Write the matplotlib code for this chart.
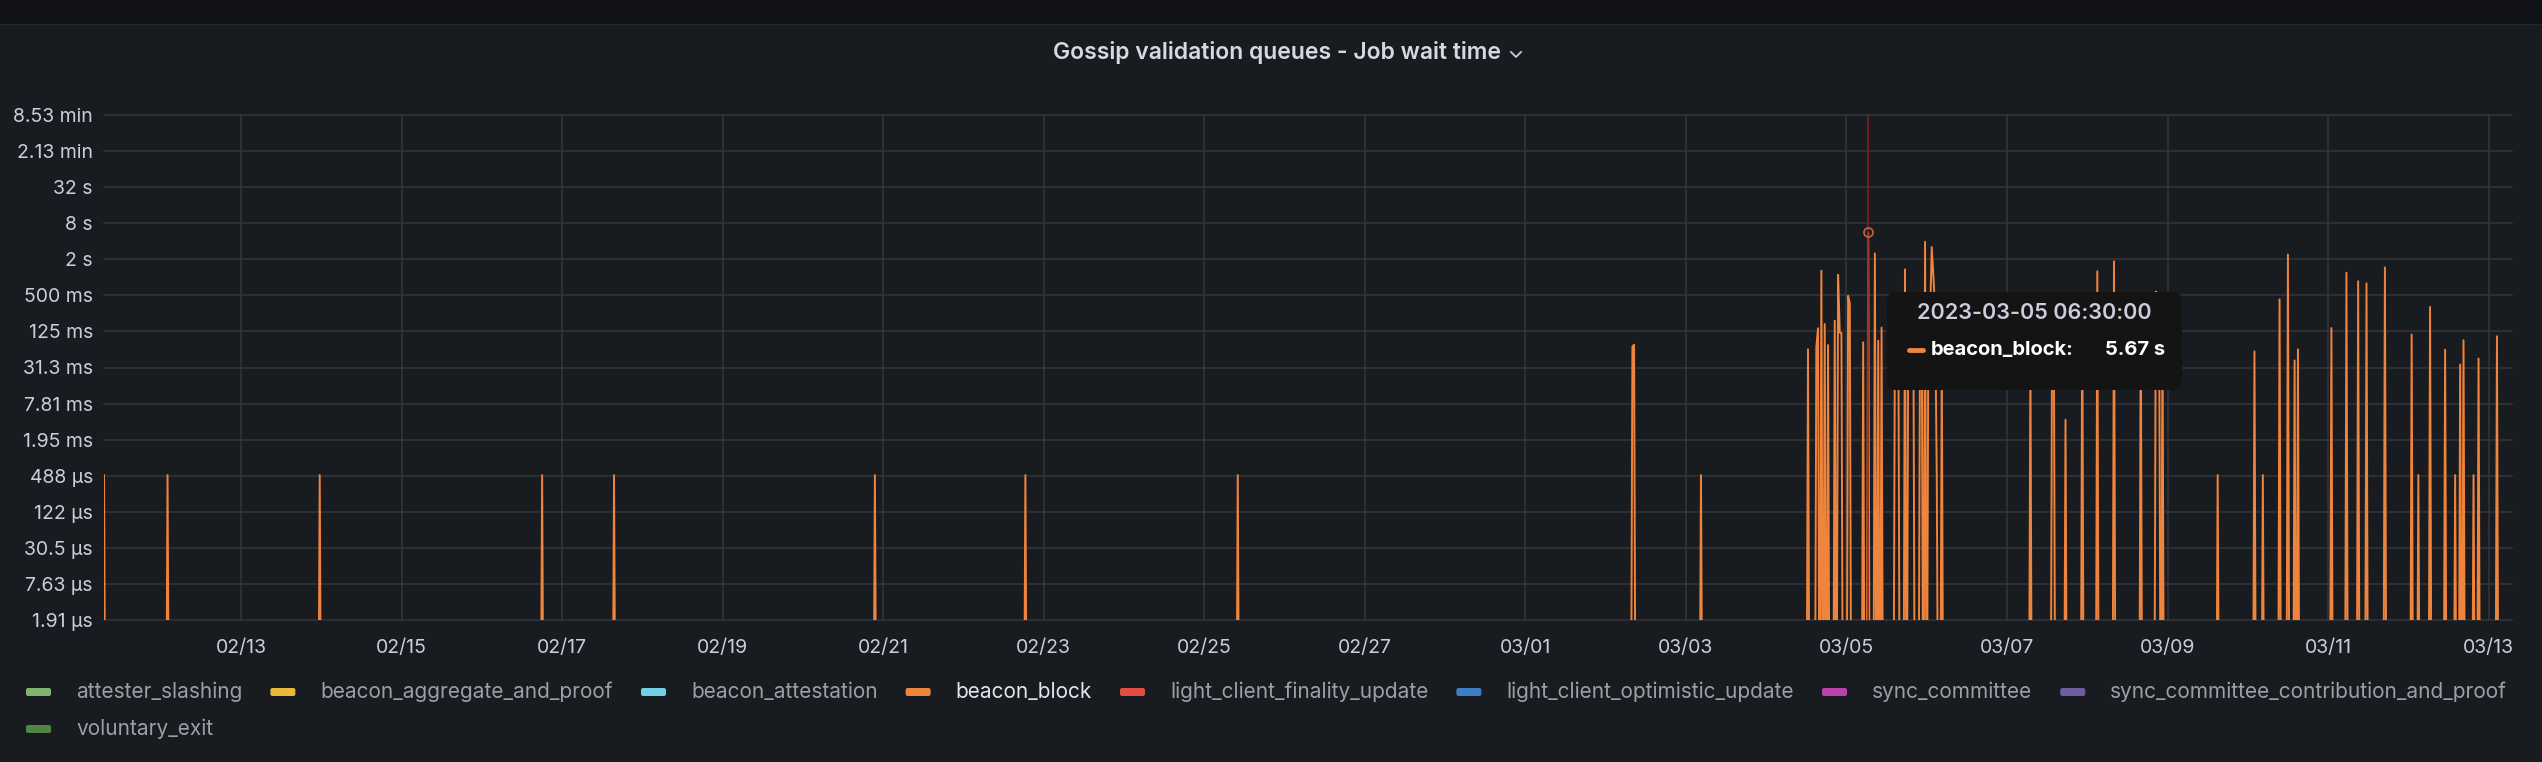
import numpy as np
import pandas as pd
import matplotlib
matplotlib.use("Agg")
import matplotlib.pyplot as plt
import matplotlib.dates as mdates
from matplotlib.patches import FancyBboxPatch, Rectangle
from matplotlib.lines import Line2D
from matplotlib.ticker import NullLocator

W, H = 2542, 762
BG = "#181b1f"
GRID = "#34363b"
TEXT = "#ccccdc"

plt.rcParams['font.family'] = ['Inter', 'DejaVu Sans']

title = "Gossip validation queues - Job wait time"

series_names = ["attester_slashing", "beacon_aggregate_and_proof", "beacon_attestation",
                "beacon_block", "light_client_finality_update", "light_client_optimistic_update",
                "sync_committee", "sync_committee_contribution_and_proof", "voluntary_exit"]
series_colors = ["#7EB26D", "#EAB839", "#6ED0E0", "#EF843C", "#E24D42", "#3f7ec4",
                 "#BA43A9", "#705DA0", "#508642"]

range_start = "2023-02-11 07:00"
range_end = "2023-03-13 07:00"
step = "30min"

# beacon_block wait time (seconds), everything else in the range is 0
block_times = [
    "2023-02-11 07:00", "2023-02-12 02:00", "2023-02-13 23:30", "2023-02-16 18:00",
    "2023-02-17 15:30", "2023-02-20 21:30", "2023-02-22 18:30", "2023-02-25 10:00",
    "2023-03-02 08:00", "2023-03-02 08:30", "2023-03-03 04:30",
    "2023-03-04 12:30", "2023-03-04 15:00", "2023-03-04 15:30", "2023-03-04 16:30",
    "2023-03-04 17:30", "2023-03-04 18:30", "2023-03-04 20:30", "2023-03-04 21:30",
    "2023-03-04 22:00", "2023-03-04 22:30", "2023-03-05 00:30", "2023-03-05 01:00",
    "2023-03-05 05:00", "2023-03-05 06:30", "2023-03-05 08:30", "2023-03-05 09:30",
    "2023-03-05 10:30", "2023-03-05 14:30", "2023-03-05 15:00", "2023-03-05 15:30",
    "2023-03-05 17:30", "2023-03-05 18:30", "2023-03-05 19:00", "2023-03-05 19:30",
    "2023-03-05 20:00", "2023-03-05 22:00", "2023-03-05 22:30", "2023-03-05 23:30",
    "2023-03-06 00:30", "2023-03-06 01:00", "2023-03-06 01:30", "2023-03-06 02:00",
    "2023-03-06 02:30", "2023-03-06 03:00", "2023-03-06 04:30",
    "2023-03-07 07:00", "2023-03-07 13:30", "2023-03-07 14:00", "2023-03-07 17:30",
    "2023-03-07 22:30", "2023-03-08 03:00", "2023-03-08 08:00", "2023-03-08 16:00",
    "2023-03-08 20:30", "2023-03-08 21:00", "2023-03-08 21:30", "2023-03-08 22:30",
    "2023-03-09 15:00",
    "2023-03-10 02:00", "2023-03-10 04:30", "2023-03-10 09:30", "2023-03-10 12:00",
    "2023-03-10 14:00", "2023-03-10 15:00", "2023-03-11 01:00", "2023-03-11 05:30",
    "2023-03-11 09:00", "2023-03-11 11:30", "2023-03-11 17:00", "2023-03-12 01:00",
    "2023-03-12 03:00", "2023-03-12 06:30", "2023-03-12 11:00", "2023-03-12 14:00",
    "2023-03-12 15:30", "2023-03-12 16:30", "2023-03-12 19:30", "2023-03-12 21:00",
    "2023-03-13 02:30",
]
block_values = [
    0.0005, 0.0005, 0.0005, 0.0005,
    0.0005, 0.0005, 0.0005, 0.0005,
    0.070, 0.075, 0.0005,
    0.063, 0.069, 0.141, 1.29,
    0.166, 0.074, 0.189, 1.10,
    0.119, 0.118, 0.49, 0.37,
    0.082, 5.67, 2.50, 0.088,
    0.145, 0.20, 0.12, 0.25,
    1.36, 0.30, 0.18, 0.40,
    0.22, 0.15, 0.35, 3.90,
    0.28, 0.20, 3.20, 1.02,
    0.30, 0.0005, 0.05,
    0.05, 0.20, 0.15, 0.0042,
    0.30, 1.26, 1.85, 0.25,
    0.58, 0.30, 0.20, 0.12,
    0.0005,
    0.058, 0.0005, 0.43, 2.40,
    0.041, 0.063, 0.142, 1.19,
    0.86, 0.79, 1.46, 0.111,
    0.0005, 0.32, 0.062, 0.0005,
    0.035, 0.089, 0.0005, 0.044,
    0.104,
]

ytick_exp = list(range(-19, 10, 2))
ytick_labels = ["1.91 µs", "7.63 µs", "30.5 µs", "122 µs", "488 µs", "1.95 ms", "7.81 ms",
                "31.3 ms", "125 ms", "500 ms", "2 s", "8 s", "32 s", "2.13 min", "8.53 min"]
xtick_dates = pd.date_range("2023-02-13", "2023-03-13", freq="2D")

hover_time = "2023-03-05 06:30"
hover_label = "2023-03-05 06:30:00"
hover_value = 5.67
hover_text = "5.67 s"


def fx(x):
    return x / W


def fy(y):
    return 1 - y / H


t = pd.date_range(range_start, range_end, freq=step)
vals = pd.Series(0.0, index=t)
vals.loc[pd.to_datetime(block_times)] = block_values
yplot = np.where(vals.values > 0, vals.values, 2.0 ** -30)

fig = plt.figure(figsize=(W / 100, H / 100), dpi=100, facecolor=BG)

# top bar of the dashboard
fig.add_artist(Rectangle((0, fy(24)), 1, 24 / H, transform=fig.transFigure,
                         fc="#111217", ec="none"))
fig.add_artist(Line2D([0, 1], [fy(24), fy(24)], transform=fig.transFigure,
                      color="#25272c", lw=1))

ax = fig.add_axes([fx(104), fy(620), fx(2512) - fx(104), fy(115) - fy(620)])
ax.set_facecolor(BG)
ax.set_yscale('log', base=2)
ax.plot(t, yplot, color="#EF843C", lw=1.4, zorder=3)
ax.set_ylim(2.0 ** -19, 2.0 ** 9)
ax.set_xlim(pd.Timestamp(range_start), pd.Timestamp(range_end))

ax.set_yticks([2.0 ** e for e in ytick_exp])
ax.set_yticklabels(ytick_labels)
ax.yaxis.set_minor_locator(NullLocator())
ax.set_xticks(xtick_dates)
ax.xaxis.set_major_formatter(mdates.DateFormatter('%m/%d'))
ax.xaxis.set_minor_locator(NullLocator())
ax.tick_params(axis='y', length=0, pad=8, labelsize=14, labelcolor=TEXT)
ax.tick_params(axis='x', length=0, pad=14, labelsize=14, labelcolor=TEXT)
ax.grid(True, color=GRID, lw=1.1, zorder=0)
for gl in ax.get_ygridlines() + ax.get_xgridlines():
    gl.set_clip_on(False)
for s in ax.spines.values():
    s.set_visible(False)

# crosshair + hovered point
hx = pd.Timestamp(hover_time)
ax.axvline(hx, color="#8a1d1d", lw=1.1, zorder=4)
ax.plot([hx], [hover_value], 'o', ms=6.5, mfc='none', mec="#b8633a", mew=1.3, zorder=5)

# title
ttl = fig.text(fx(1277), fy(53), title, ha='center', va='center', fontsize=16.5,
               weight='semibold', color="#d8d9e0")
fig.canvas.draw()
rend = fig.canvas.get_renderer()
tb = ttl.get_window_extent(rend)
cx = tb.x1 + 15
cy = H * fy(55)
fig.add_artist(Line2D([fx(cx - 5), fx(cx), fx(cx + 5)],
                      [(cy + 3) / H, (cy - 2) / H, (cy + 3) / H],
                      transform=fig.transFigure, color=TEXT, lw=1.3))

# tooltip
box = FancyBboxPatch((fx(1887), fy(390)), fx(2182) - fx(1887), fy(292) - fy(390),
                     boxstyle="round,pad=0,rounding_size=0.0035", mutation_aspect=W / H,
                     transform=fig.transFigure, fc="#141414", ec="none", zorder=10)
fig.add_artist(box)
fig.text(fx(2034), fy(313), hover_label, ha='center', va='center', fontsize=15.5,
         color=TEXT, weight='semibold', zorder=11)
fig.add_artist(Line2D([fx(1909), fx(1923)], [fy(350), fy(350)], transform=fig.transFigure,
                      color="#EF843C", lw=3.5, solid_capstyle='round', zorder=11))
fig.text(fx(1931), fy(350), "beacon_block:", ha='left', va='center', fontsize=14.5,
         color="white", weight='bold', zorder=11)
fig.text(fx(2165), fy(350), hover_text, ha='right', va='center', fontsize=14.5,
         color="white", weight='bold', zorder=11)

# legend
rows = [series_names[:8], series_names[8:]]
row_y = [692, 729]
k = 0
for r, names in enumerate(rows):
    x = 26
    for name in names:
        col = series_colors[k]
        fig.add_artist(FancyBboxPatch((fx(x), fy(row_y[r] + 4)), fx(25), 8 / H,
                                      boxstyle="round,pad=0,rounding_size=0.0008",
                                      mutation_aspect=W / H, transform=fig.transFigure,
                                      fc=col, ec="none"))
        tcol = "#e4e4ec" if name == "beacon_block" else "#9d9ea6"
        txt = fig.text(fx(x + 50), fy(row_y[r]), name, ha='left', va='center',
                       fontsize=15.0, color=tcol)
        w = txt.get_window_extent(rend).width
        x = x + 50 + w + 28
        k += 1

fig.savefig("out.png", dpi=100, facecolor=BG)
